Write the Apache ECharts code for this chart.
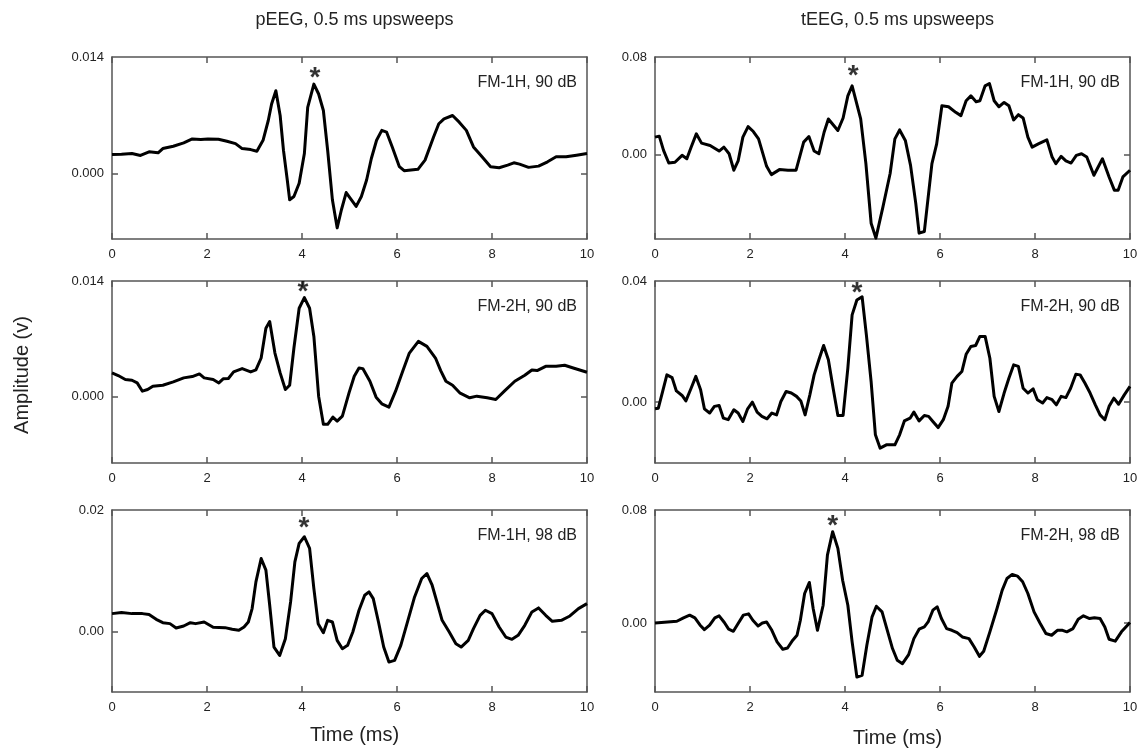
<!DOCTYPE html>
<html>
<head>
<meta charset="utf-8">
<script src="https://cdn.jsdelivr.net/npm/echarts@6/dist/echarts.min.js"></script>
<style>
  html, body { margin: 0; padding: 0; background: #fff; }
  #chart { width: 1142px; height: 751px; }
</style>
</head>
<body>
<div id="chart"></div>
<script>
// column titles, panel labels
var colTitles = ['pEEG, 0.5 ms upsweeps', 'tEEG, 0.5 ms upsweeps'];
var panelLabels = ['FM-1H, 90 dB', 'FM-1H, 90 dB', 'FM-2H, 90 dB', 'FM-2H, 90 dB', 'FM-1H, 98 dB', 'FM-2H, 98 dB'];

// time axis ticks (ms)
var timeTicks = [0, 2, 4, 6, 8, 10];

// y ranges + labelled ticks per panel (left col, right col, row by row)
var yMins = [-0.0079, -0.069, -0.008, -0.0201, -0.010, -0.0486];
var yMaxs = [0.014, 0.08, 0.014, 0.04, 0.02, 0.08];
var yTickDigits = [3, 2, 3, 2, 2, 2];

// pEEG, FM-1H, 90 dB
var p1Time = [0, 0.2, 0.42, 0.6, 0.78, 0.97, 1.07, 1.29, 1.51, 1.69, 1.87, 2.02, 2.24, 2.42, 2.6, 2.74, 2.92, 3.05, 3.18, 3.29, 3.36, 3.45, 3.54, 3.61, 3.69, 3.74, 3.83, 3.94, 4.05, 4.12, 4.25, 4.35, 4.45, 4.54, 4.64, 4.74, 4.83, 4.93, 5.14, 5.25, 5.36, 5.46, 5.57, 5.68, 5.78, 5.9, 6.05, 6.15, 6.44, 6.59, 6.77, 6.88, 6.99, 7.17, 7.31, 7.46, 7.61, 7.79, 7.97, 8.15, 8.33, 8.46, 8.58, 8.77, 8.98, 9.17, 9.35, 9.56, 9.78, 10];
var p1Amp = [0.00227, 0.00231, 0.00239, 0.00215, 0.00259, 0.00247, 0.00298, 0.00326, 0.00366, 0.00414, 0.00406, 0.00414, 0.0041, 0.00386, 0.00358, 0.00298, 0.00286, 0.00266, 0.00398, 0.00636, 0.00835, 0.00994, 0.00696, 0.00278, -0.0008, -0.00318, -0.00278, -0.00119, 0.00239, 0.00795, 0.01074, 0.00955, 0.00756, 0.00278, -0.00318, -0.00656, -0.00438, -0.00231, -0.00398, -0.00278, -0.0008, 0.00179, 0.00398, 0.00517, 0.00497, 0.00318, 0.0008, 0.00032, 0.00048, 0.00159, 0.00438, 0.00597, 0.00656, 0.00696, 0.00616, 0.00517, 0.00318, 0.00199, 0.0008, 0.00068, 0.00099, 0.00127, 0.00111, 0.00072, 0.00087, 0.00139, 0.00199, 0.00199, 0.00219, 0.00239];

// tEEG, FM-1H, 90 dB
var p2Time = [0, 0.09, 0.18, 0.29, 0.42, 0.57, 0.67, 0.76, 0.87, 0.98, 1.16, 1.35, 1.45, 1.56, 1.66, 1.75, 1.85, 1.96, 2.07, 2.18, 2.35, 2.45, 2.62, 2.8, 2.97, 3.13, 3.24, 3.35, 3.45, 3.56, 3.65, 3.85, 3.96, 4.06, 4.15, 4.33, 4.44, 4.55, 4.65, 4.8, 4.95, 5.05, 5.15, 5.27, 5.38, 5.49, 5.56, 5.67, 5.83, 5.93, 6.04, 6.18, 6.33, 6.44, 6.55, 6.65, 6.76, 6.84, 6.95, 7.04, 7.14, 7.24, 7.35, 7.45, 7.55, 7.65, 7.75, 7.85, 7.94, 8.07, 8.25, 8.36, 8.44, 8.55, 8.65, 8.76, 8.87, 8.98, 9.09, 9.24, 9.42, 9.56, 9.67, 9.75, 9.85, 10];
var p2Amp = [0.0144, 0.0152, 0.0035, -0.0068, -0.0062, -0.0005, -0.0033, 0.0062, 0.0171, 0.0095, 0.0076, 0.003, 0.0062, 0.0008, -0.0127, -0.0051, 0.0144, 0.023, 0.019, 0.013, -0.0095, -0.0163, -0.0122, -0.0127, -0.0127, 0.0103, 0.0149, 0.003, 0.0008, 0.0184, 0.0293, 0.0198, 0.0301, 0.0482, 0.0564, 0.0293, -0.0073, -0.0561, -0.0683, -0.0425, -0.0154, 0.013, 0.0203, 0.0117, -0.0087, -0.0398, -0.0642, -0.0629, -0.0073, 0.0089, 0.0401, 0.0393, 0.0347, 0.032, 0.0442, 0.0482, 0.0434, 0.0442, 0.0564, 0.0583, 0.0442, 0.0393, 0.0428, 0.0401, 0.0285, 0.0328, 0.0301, 0.0144, 0.0062, 0.0089, 0.0122, -0.0019, -0.0073, -0.0014, -0.0051, -0.0068, -0.0005, 0.0008, -0.0019, -0.0168, -0.0033, -0.0182, -0.029, -0.029, -0.0182, -0.0127];

// pEEG, FM-2H, 90 dB
var p3Time = [0, 0.13, 0.28, 0.42, 0.53, 0.64, 0.75, 0.86, 1.07, 1.29, 1.51, 1.69, 1.84, 1.94, 2.13, 2.25, 2.34, 2.45, 2.56, 2.74, 2.92, 3.03, 3.14, 3.24, 3.32, 3.43, 3.54, 3.65, 3.74, 3.83, 3.94, 4.05, 4.16, 4.25, 4.35, 4.45, 4.54, 4.65, 4.74, 4.85, 4.99, 5.1, 5.2, 5.28, 5.43, 5.56, 5.68, 5.83, 5.97, 6.12, 6.26, 6.45, 6.63, 6.81, 6.92, 7.03, 7.17, 7.32, 7.53, 7.68, 7.9, 8.08, 8.26, 8.48, 8.69, 8.84, 8.95, 9.13, 9.35, 9.53, 9.71, 10];
var p3Amp = [0.00289, 0.00257, 0.00209, 0.002, 0.00168, 0.00068, 0.00088, 0.00128, 0.0014, 0.0018, 0.00229, 0.00245, 0.00277, 0.00229, 0.00209, 0.00168, 0.00217, 0.00221, 0.00301, 0.00341, 0.00301, 0.00325, 0.00469, 0.0083, 0.0091, 0.00529, 0.00289, 0.00088, 0.0014, 0.0059, 0.01071, 0.01199, 0.01071, 0.0073, 0.00008, -0.00333, -0.00333, -0.00245, -0.00293, -0.00233, 0.00048, 0.00249, 0.00349, 0.00341, 0.00188, -0.00004, -0.00084, -0.00124, 0.00068, 0.00309, 0.00529, 0.0067, 0.0061, 0.00469, 0.00317, 0.00188, 0.0014, 0.00048, -0.00012, 0.00008, -0.00012, -0.00032, 0.00068, 0.00188, 0.00261, 0.00325, 0.00317, 0.00369, 0.00369, 0.00381, 0.00349, 0.00297];

// tEEG, FM-2H, 90 dB
var p4Time = [0, 0.07, 0.16, 0.25, 0.36, 0.45, 0.57, 0.65, 0.76, 0.86, 0.96, 1.04, 1.15, 1.25, 1.35, 1.44, 1.54, 1.66, 1.75, 1.85, 1.95, 2.05, 2.15, 2.25, 2.36, 2.46, 2.56, 2.65, 2.76, 2.87, 2.98, 3.07, 3.16, 3.26, 3.35, 3.45, 3.55, 3.65, 3.75, 3.85, 3.96, 4.06, 4.15, 4.25, 4.36, 4.45, 4.55, 4.64, 4.74, 4.87, 5.05, 5.15, 5.25, 5.37, 5.45, 5.56, 5.67, 5.76, 5.85, 5.96, 6.07, 6.17, 6.25, 6.36, 6.46, 6.55, 6.65, 6.75, 6.84, 6.95, 7.05, 7.14, 7.24, 7.35, 7.45, 7.55, 7.65, 7.75, 7.85, 7.96, 8.05, 8.16, 8.25, 8.36, 8.45, 8.55, 8.65, 8.75, 8.86, 8.95, 9.05, 9.16, 9.27, 9.37, 9.47, 9.56, 9.66, 9.76, 9.88, 10];
var p4Amp = [-0.0022, -0.002, 0.0035, 0.009, 0.0081, 0.0037, 0.0022, 0.0004, 0.0046, 0.0085, 0.0041, -0.0022, -0.0036, -0.0014, -0.0011, -0.0053, -0.0058, -0.0025, -0.0036, -0.0064, -0.0022, 0, -0.0033, -0.0047, -0.0055, -0.0036, -0.0042, 0.0002, 0.0035, 0.003, 0.0019, 0.0004, -0.0042, 0.0024, 0.009, 0.014, 0.0187, 0.014, 0.0046, -0.0044, -0.0044, 0.0112, 0.0288, 0.0337, 0.0348, 0.0222, 0.0068, -0.0108, -0.0152, -0.0141, -0.0141, -0.0108, -0.0062, -0.0053, -0.0033, -0.0062, -0.0044, -0.0047, -0.0064, -0.0084, -0.0058, -0.0014, 0.0063, 0.0085, 0.0101, 0.0158, 0.0184, 0.0187, 0.0217, 0.0217, 0.0145, 0.0019, -0.0031, 0.003, 0.0079, 0.0123, 0.0118, 0.0046, 0.003, 0.0044, 0.0008, -0.0003, 0.0015, 0.0008, -0.0009, 0.0019, 0.0015, 0.0046, 0.0092, 0.009, 0.0063, 0.003, -0.0009, -0.0042, -0.0058, -0.0014, 0.0013, -0.0007, 0.0024, 0.0052];

// pEEG, FM-1H, 98 dB
var p5Time = [0, 0.2, 0.42, 0.64, 0.78, 0.93, 1.07, 1.22, 1.35, 1.51, 1.65, 1.76, 1.94, 2.13, 2.38, 2.53, 2.67, 2.78, 2.87, 2.95, 3.03, 3.14, 3.24, 3.32, 3.41, 3.53, 3.65, 3.76, 3.85, 3.94, 4.05, 4.16, 4.25, 4.34, 4.45, 4.54, 4.64, 4.74, 4.85, 4.96, 5.07, 5.2, 5.32, 5.41, 5.5, 5.61, 5.72, 5.83, 5.95, 6.08, 6.23, 6.37, 6.52, 6.63, 6.74, 6.84, 6.95, 7.1, 7.24, 7.35, 7.5, 7.61, 7.75, 7.86, 8, 8.15, 8.29, 8.42, 8.55, 8.69, 8.84, 8.98, 9.13, 9.27, 9.46, 9.64, 9.82, 10];
var p5Amp = [0.00292, 0.00309, 0.00292, 0.00292, 0.00276, 0.00198, 0.00143, 0.00127, 0.00055, 0.00088, 0.00143, 0.00127, 0.00154, 0.00066, 0.00061, 0.00033, 0.00017, 0.00072, 0.00154, 0.00375, 0.00815, 0.01201, 0.01008, 0.0043, -0.00259, -0.00397, -0.00121, 0.00485, 0.01146, 0.01449, 0.01559, 0.01367, 0.00705, 0.00127, -0.00022, 0.00182, 0.00154, -0.00149, -0.00287, -0.00231, -0.00011, 0.00347, 0.00595, 0.0065, 0.0054, 0.00154, -0.00259, -0.00507, -0.00479, -0.00231, 0.00182, 0.00567, 0.00871, 0.00953, 0.0076, 0.00485, 0.00182, -0.00011, -0.00204, -0.00259, -0.00149, 0.00044, 0.00264, 0.00347, 0.00292, 0.00072, -0.00094, -0.00132, -0.00066, 0.00099, 0.0032, 0.00386, 0.00264, 0.00165, 0.00182, 0.00253, 0.00375, 0.00457];

// tEEG, FM-2H, 98 dB
var p6Time = [0, 0.2, 0.46, 0.6, 0.73, 0.84, 0.95, 1.04, 1.15, 1.26, 1.35, 1.46, 1.55, 1.65, 1.75, 1.86, 1.97, 2.06, 2.17, 2.26, 2.35, 2.46, 2.57, 2.69, 2.79, 2.9, 2.99, 3.06, 3.15, 3.25, 3.33, 3.42, 3.54, 3.63, 3.74, 3.85, 3.95, 4.06, 4.15, 4.25, 4.36, 4.46, 4.57, 4.66, 4.78, 4.88, 5, 5.1, 5.21, 5.34, 5.45, 5.56, 5.67, 5.75, 5.85, 5.94, 6.03, 6.14, 6.25, 6.36, 6.47, 6.61, 6.72, 6.83, 6.92, 7.05, 7.2, 7.31, 7.41, 7.52, 7.63, 7.74, 7.85, 7.98, 8.11, 8.23, 8.35, 8.47, 8.58, 8.67, 8.8, 8.91, 9.02, 9.15, 9.25, 9.37, 9.47, 9.56, 9.69, 9.82, 10];
var p6Amp = [0.0002, 0.0007, 0.0014, 0.0038, 0.0057, 0.0038, -0.0014, -0.0045, -0.0014, 0.0038, 0.0052, 0.0005, -0.0042, -0.0057, -0.0002, 0.0057, 0.0066, 0.0021, -0.0019, 0.0002, 0.0009, -0.005, -0.0132, -0.0184, -0.0175, -0.012, -0.0085, 0.0021, 0.021, 0.0288, 0.0104, -0.005, 0.0127, 0.0481, 0.0647, 0.0529, 0.0304, 0.0127, -0.0132, -0.038, -0.0368, -0.0156, 0.0045, 0.012, 0.008, -0.0038, -0.0179, -0.0262, -0.0286, -0.0222, -0.0109, -0.0042, -0.0026, 0.0009, 0.0092, 0.0116, 0.0033, -0.0038, -0.005, -0.0066, -0.0097, -0.0109, -0.0168, -0.0234, -0.0198, -0.0061, 0.0104, 0.0234, 0.0316, 0.0345, 0.0333, 0.0293, 0.021, 0.008, -0.0002, -0.0073, -0.0085, -0.005, -0.005, -0.0061, -0.0038, 0.0028, 0.0052, 0.0033, 0.0038, 0.0033, -0.0026, -0.0113, -0.0127, -0.0061, 0.0005];

// asterisk above the marked peak, per panel
var starTime = [4.27, 4.17, 4.02, 4.25, 4.04, 3.74];
var starAmp = [0.0121, 0.068, 0.0132, 0.0375, 0.0178, 0.072];

var times = [p1Time, p2Time, p3Time, p4Time, p5Time, p6Time];
var amps = [p1Amp, p2Amp, p3Amp, p4Amp, p5Amp, p6Amp];

var colLeft = [112, 655];
var plotW = 475;
var rowTop = [57, 281, 510];
var plotH = 182;
var frameColor = '#555';
var textColor = '#222';
var fontFam = 'Liberation Sans, Arial, sans-serif';

var grids = [], xAxes = [], yAxes = [], series = [], titles = [];

for (var i = 0; i < 6; i++) {
  var col = i % 2, row = Math.floor(i / 2);
  grids.push({ left: colLeft[col], top: rowTop[row], width: plotW, height: plotH });
  var axLine = { show: true, onZero: false, lineStyle: { color: frameColor, width: 1.5 } };
  var tick = { show: true, inside: true, length: 6, lineStyle: { color: frameColor, width: 1.5 } };
  // bottom x
  xAxes.push({
    type: 'value', gridIndex: i, position: 'bottom', min: 0, max: 10, interval: 2,
    axisLine: axLine, axisTick: tick, splitLine: { show: false },
    axisLabel: { show: true, color: textColor, fontSize: 13, fontFamily: fontFam, margin: 9 }
  });
  // top x (frame + ticks)
  xAxes.push({
    type: 'value', gridIndex: i, position: 'top', min: 0, max: 10, interval: 2,
    axisLine: axLine, axisTick: tick, splitLine: { show: false }, axisLabel: { show: false }
  });
  var d = yTickDigits[i];
  var yt = [0, yMaxs[i]];
  yAxes.push({
    type: 'value', gridIndex: i, position: 'left', min: yMins[i], max: yMaxs[i],
    axisLine: axLine, splitLine: { show: false },
    axisTick: { show: true, inside: true, length: 6, customValues: [0], lineStyle: { color: frameColor, width: 1.5 } },
    axisLabel: {
      show: true, customValues: yt, color: textColor, fontSize: 13, fontFamily: fontFam, margin: 8,
      formatter: (function (dd) { return function (v) { return v.toFixed(dd); }; })(d)
    }
  });
  yAxes.push({
    type: 'value', gridIndex: i, position: 'right', min: yMins[i], max: yMaxs[i],
    axisLine: axLine, splitLine: { show: false },
    axisTick: { show: true, inside: true, length: 6, customValues: [0], lineStyle: { color: frameColor, width: 1.5 } },
    axisLabel: { show: false }
  });
  var pts = times[i].map(function (t, k) { return [t, amps[i][k]]; });
  series.push({
    type: 'line', xAxisIndex: 2 * i, yAxisIndex: 2 * i, data: pts,
    showSymbol: false, symbol: 'none', smooth: false, silent: true, animation: false,
    lineStyle: { color: '#000', width: 3, join: 'round' }
  });
  // asterisk marker
  series.push({
    type: 'scatter', xAxisIndex: 2 * i, yAxisIndex: 2 * i,
    data: [[starTime[i], starAmp[i]]],
    symbol: 'circle', symbolSize: 1, silent: true, animation: false,
    itemStyle: { color: 'rgba(0,0,0,0)' },
    label: { show: true, formatter: '*', position: 'inside', color: '#000', fontSize: 28, fontWeight: 'bold', fontFamily: fontFam, offset: [0, 5] }
  });
  titles.push({
    text: panelLabels[i],
    right: 1142 - colLeft[col] - plotW + 5, top: rowTop[row] + 13,
    textStyle: { fontSize: 16, fontWeight: 'normal', color: textColor, fontFamily: fontFam }
  });
}

// column headers
titles.push({ text: colTitles[0], left: colLeft[0] + plotW / 2, top: 6, textAlign: 'center',
  textStyle: { fontSize: 18, fontWeight: 'normal', color: textColor, fontFamily: fontFam } });
titles.push({ text: colTitles[1], left: colLeft[1] + plotW / 2, top: 6, textAlign: 'center',
  textStyle: { fontSize: 18, fontWeight: 'normal', color: textColor, fontFamily: fontFam } });
// x axis titles
titles.push({ text: 'Time (ms)', left: colLeft[0] + plotW / 2, top: 720, textAlign: 'center',
  textStyle: { fontSize: 20, fontWeight: 'normal', color: textColor, fontFamily: fontFam } });
titles.push({ text: 'Time (ms)', left: colLeft[1] + plotW / 2, top: 723, textAlign: 'center',
  textStyle: { fontSize: 20, fontWeight: 'normal', color: textColor, fontFamily: fontFam } });

var chart = echarts.init(document.getElementById('chart'), null, { renderer: 'canvas' });
chart.setOption({
  backgroundColor: '#fff',
  animation: false,
  title: titles,
  grid: grids,
  xAxis: xAxes,
  yAxis: yAxes,
  series: series,
  graphic: [{
    type: 'text', rotation: Math.PI / 2,
    style: { text: 'Amplitude (v)', fontSize: 20, fill: textColor, fontFamily: fontFam, textAlign: 'center', textVerticalAlign: 'middle' },
    x: 22, y: 375
  }]
});
</script>
</body>
</html>
